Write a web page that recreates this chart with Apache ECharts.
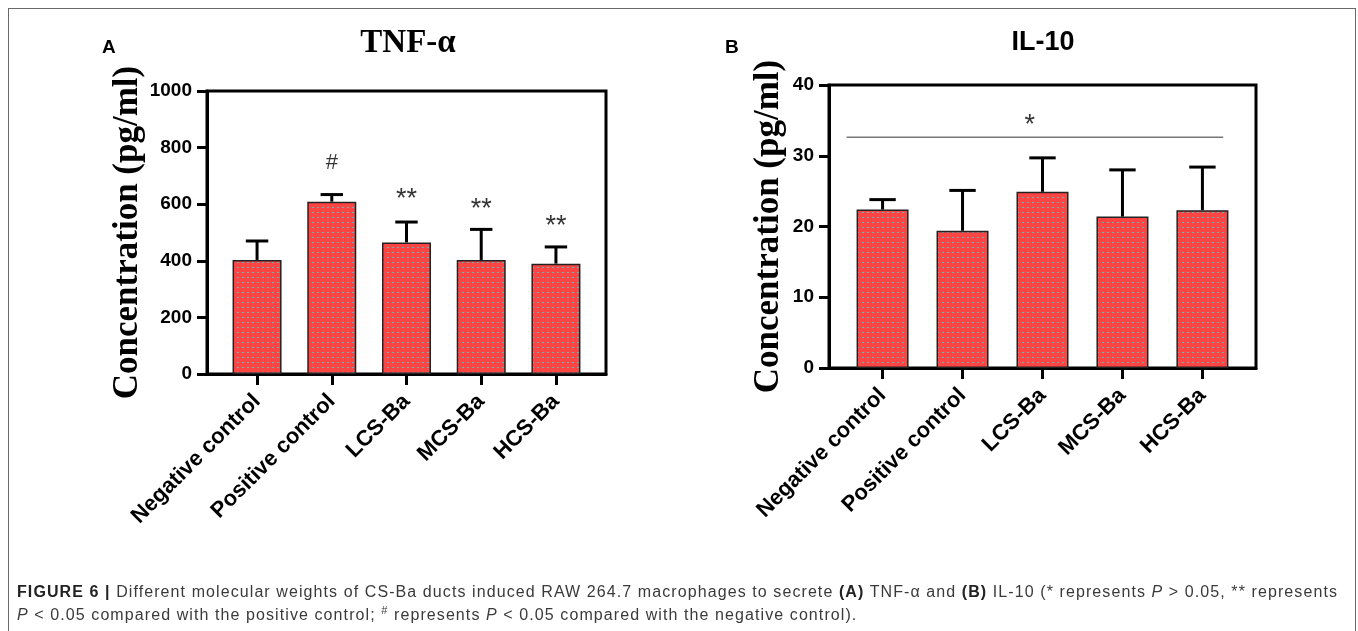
<!DOCTYPE html>
<html>
<head>
<meta charset="utf-8">
<script src="https://cdn.jsdelivr.net/npm/echarts@6/dist/echarts.min.js"></script>
<style>
  html, body { margin: 0; padding: 0; background: #fff; width: 1358px; height: 631px; overflow: hidden; }
  #frame { position: absolute; left: 8px; top: 8px; width: 1348px; height: 700px; border: 1px solid #6a6a6a; box-sizing: border-box; }
  #chart { position: absolute; left: 0; top: 0; width: 1358px; height: 631px; }
  #caption { position: absolute; left: 17px; top: 580px; font-family: "Liberation Sans", Arial, sans-serif; font-size: 16px; line-height: 23px; color: #3a3a3a; white-space: nowrap; }
  #caption b { color: #222; }
  #caption sup { font-size: 11px; line-height: 0; }
  .ln { display: block; }
</style>
</head>
<body>
<div id="frame"></div>
<div id="chart"></div>
<div id="caption">
  <span class="ln" id="l1"><b>FIGURE 6 |</b> Different molecular weights of CS-Ba ducts induced RAW 264.7 macrophages to secrete <b>(A)</b> TNF-α and <b>(B)</b> IL-10 (* represents <i>P</i> &gt; 0.05, ** represents</span>
  <span class="ln" id="l2"><i>P</i> &lt; 0.05 compared with the positive control; <sup>#</sup> represents <i>P</i> &lt; 0.05 compared with the negative control).</span>
</div>
<script>
// ---------- data ----------
const categories = ['Negative control', 'Positive control', 'LCS-Ba', 'MCS-Ba', 'HCS-Ba'];

const tnfMean = [403, 609, 465, 403, 390];
const tnfErrTop = [470, 634, 537, 511, 449];
const tnfSigText = ['', '#', '**', '**', '**'];
const tnfSigY = [null, 745, 615, 580, 520];
const tnfTicks = [0, 200, 400, 600, 800, 1000];

const il10Mean = [22.4, 19.4, 24.9, 21.4, 22.3];
const il10ErrTop = [23.8, 25.1, 29.7, 28.0, 28.4];
const il10Ticks = [0, 10, 20, 30, 40];
const il10SigLineX = [-0.45, 4.26];
const il10SigLineY = 32.6;
const il10SigStar = { x: 1.84, y: 34.3, text: '*' };

// ---------- caption width fit ----------
(function fitCaption() {
  const l1 = document.getElementById('l1');
  const l2 = document.getElementById('l2');
  const target = 1321;
  const w = l1.getBoundingClientRect().width;
  const n = l1.textContent.length;
  const ls = (target - w) / n;
  l1.style.letterSpacing = ls + 'px';
  l2.style.letterSpacing = ls + 'px';
})();

// ---------- pattern ----------
function makePattern() {
  const c = document.createElement('canvas');
  c.width = 5; c.height = 5;
  const g = c.getContext('2d');
  g.fillStyle = '#ff4444';
  g.fillRect(0, 0, 5, 5);
  g.fillStyle = '#5fb8b8';
  g.fillRect(2, 2, 2, 1);
  return c;
}
const pattern = { image: makePattern(), repeat: 'repeat' };

const idx = categories.map((_, i) => i);

function errData(means, tops) {
  return means.map((m, i) => [i, m, tops[i]]);
}

function errRender(capUnits) {
  return function (params, api) {
    const x = api.value(0);
    const base = api.coord([x, api.value(1)]);
    const top = api.coord([x, api.value(2)]);
    const half = api.size([capUnits, 0])[0] / 2;
    const style = { stroke: '#000', lineWidth: 3, fill: null };
    return {
      type: 'group',
      children: [
        { type: 'line', shape: { x1: base[0], y1: base[1], x2: top[0], y2: top[1] }, style },
        { type: 'line', shape: { x1: top[0] - half, y1: top[1], x2: top[0] + half, y2: top[1] }, style }
      ]
    };
  };
}

const axisFont = 'Liberation Sans, Arial, sans-serif';

function xAxisFor(gridIndex) {
  return {
    type: 'value', gridIndex, min: -0.67, max: 4.67,
    axisLine: { show: true, onZero: false, lineStyle: { color: '#000', width: 3 } },
    axisTick: { show: true, customValues: idx, length: 11, lineStyle: { color: '#000', width: 3 } },
    axisLabel: {
      show: true, customValues: idx, rotate: 45, margin: 24,
      formatter: v => categories[Math.round(v)] || '',
      color: '#000', fontFamily: axisFont, fontWeight: 'bold', fontSize: 22
    },
    splitLine: { show: false }
  };
}

function yAxisFor(gridIndex, max, interval, gap) {
  return {
    type: 'value', gridIndex, min: 0, max, interval,
    name: 'Concentration (pg/ml)', nameLocation: 'middle', nameRotate: 90, nameGap: gap,
    nameTextStyle: { fontFamily: 'Liberation Serif, Times New Roman, serif', fontWeight: 'bold', fontSize: 35, color: '#000' },
    axisLine: { show: true, onZero: false, lineStyle: { color: '#000', width: 3 } },
    axisTick: { show: true, length: 10, lineStyle: { color: '#000', width: 3 } },
    axisLabel: { color: '#000', fontFamily: axisFont, fontWeight: 'bold', fontSize: 19, margin: 15, formatter: v => String(v) },
    splitLine: { show: false }
  };
}

const barItem = { color: pattern, borderColor: '#222', borderWidth: 1.5 };

const option = {
  animation: false,
  title: [
    { text: 'TNF-α', left: 403, top: 22, textAlign: 'center',
      textStyle: { fontFamily: 'Liberation Serif, Times New Roman, serif', fontWeight: 'bold', fontSize: 33, color: '#000' } },
    { text: 'IL-10', left: 1038, top: 24, textAlign: 'center',
      textStyle: { fontFamily: axisFont, fontWeight: 'bold', fontSize: 27, color: '#000' } },
    { text: 'A', left: 97, top: 33,
      textStyle: { fontFamily: axisFont, fontWeight: 'bold', fontSize: 19, color: '#000' } },
    { text: 'B', left: 720, top: 33,
      textStyle: { fontFamily: axisFont, fontWeight: 'bold', fontSize: 19, color: '#000' } }
  ],
  grid: [
    { left: 207, top: 91, width: 399, height: 283, show: true, borderColor: '#000', borderWidth: 3, backgroundColor: 'transparent' },
    { left: 829, top: 85, width: 427, height: 283, show: true, borderColor: '#000', borderWidth: 3, backgroundColor: 'transparent' }
  ],
  xAxis: [xAxisFor(0), xAxisFor(1)],
  yAxis: [yAxisFor(0, tnfTicks[tnfTicks.length - 1], tnfTicks[1] - tnfTicks[0], 56),
          yAxisFor(1, il10Ticks[il10Ticks.length - 1], il10Ticks[1] - il10Ticks[0], 43)],
  series: [
    { type: 'bar', xAxisIndex: 0, yAxisIndex: 0, barWidth: 49, itemStyle: barItem,
      data: tnfMean.map((v, i) => [i, v]) },
    { type: 'custom', xAxisIndex: 0, yAxisIndex: 0, renderItem: errRender(0.3),
      data: errData(tnfMean, tnfErrTop), z: 3 },
    { type: 'scatter', xAxisIndex: 0, yAxisIndex: 0, symbolSize: 0,
      data: tnfSigY.map((y, i) => y == null ? null : { value: [i, y], label: { formatter: tnfSigText[i], fontSize: tnfSigText[i] === '#' ? 22 : 27 } }).filter(d => d),
      label: { show: true, position: 'inside', color: '#000', fontFamily: axisFont } },

    { type: 'bar', xAxisIndex: 1, yAxisIndex: 1, barWidth: 52, itemStyle: barItem,
      data: il10Mean.map((v, i) => [i, v]) },
    { type: 'custom', xAxisIndex: 1, yAxisIndex: 1, renderItem: errRender(0.33),
      data: errData(il10Mean, il10ErrTop), z: 3 },
    { type: 'line', xAxisIndex: 1, yAxisIndex: 1, symbol: 'none',
      lineStyle: { color: '#777', width: 1.5 },
      data: il10SigLineX.map(x => [x, il10SigLineY]) },
    { type: 'scatter', xAxisIndex: 1, yAxisIndex: 1, symbolSize: 0,
      data: [{ value: [il10SigStar.x, il10SigStar.y] }],
      label: { show: true, position: 'inside', formatter: il10SigStar.text, color: '#000', fontFamily: axisFont, fontSize: 27 } }
  ]
};

const chart = echarts.init(document.getElementById('chart'), null, { renderer: 'canvas' });
chart.setOption(option);
</script>
</body>
</html>
